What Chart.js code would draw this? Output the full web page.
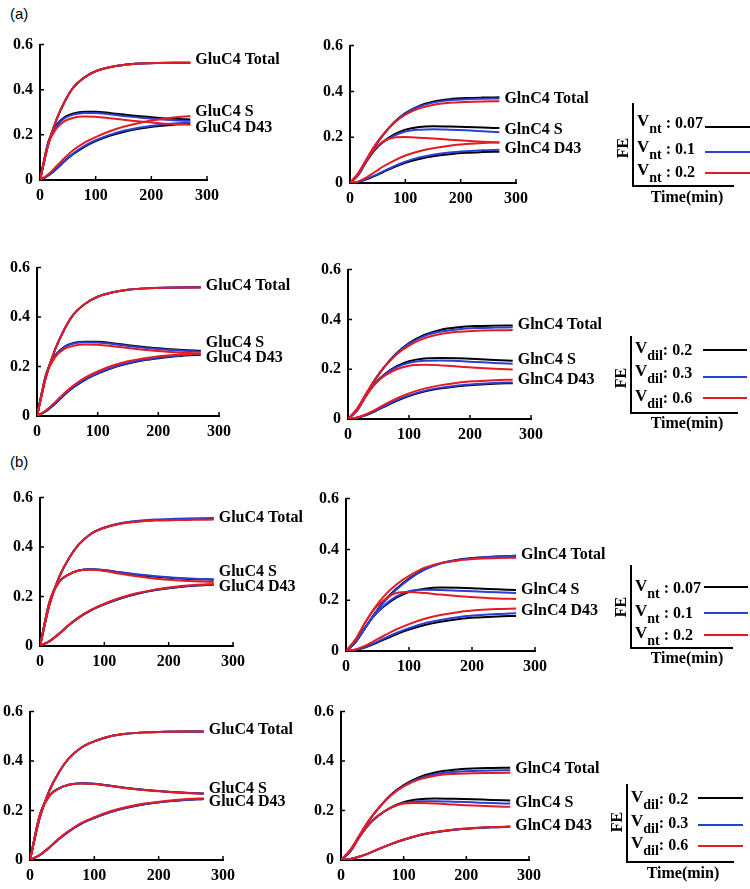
<!DOCTYPE html>
<html>
<head>
<meta charset="utf-8">
<script src="https://cdn.jsdelivr.net/npm/chart.js@4.4.0/dist/chart.umd.min.js"></script>
<style>
  html, body { margin: 0; padding: 0; background: #fff; }
  #page { position: relative; width: 750px; height: 889px; overflow: hidden; }
  #page canvas { position: absolute; }
  .tag { position: absolute; font: 15px "Liberation Sans", Arial, sans-serif; color: #000; transform: translateY(-50%); }
  .lg { position: absolute; font: bold 16px "Liberation Serif", serif; color: #000; white-space: nowrap; line-height: 1; }
  .lg .v { font-size: 17px; position: relative; top: -2px; }
  .lg .sub { font-size: 14px; position: relative; top: 5px; }
  .rule { position: absolute; background: #000; }
</style>
</head>
<body>
<div id="page"></div>
<script>
/* ---------- data ---------- */
const TIME = [0, 15, 30, 45, 60, 80, 100, 125, 150, 180, 210, 240, 270];
const NT_VALUES = ['0.07', '0.1', '0.2'];
const DIL_VALUES = ['0.2', '0.3', '0.6'];
const GLU_NAMES = ['GluC4 Total', 'GluC4 S', 'GluC4 D43'];
const GLN_NAMES = ['GlnC4 Total', 'GlnC4 S', 'GlnC4 D43'];

// (a) row 1 left : GluC4, V_nt varied  (K = black, B = blue, R = red)
const a1TotK = [0, 0.16, 0.27, 0.35, 0.41, 0.455, 0.482, 0.50, 0.51, 0.516, 0.519, 0.52, 0.52];
const a1TotB = [0, 0.16, 0.27, 0.35, 0.41, 0.455, 0.482, 0.50, 0.51, 0.516, 0.519, 0.52, 0.52];
const a1TotR = [0, 0.16, 0.27, 0.35, 0.41, 0.455, 0.482, 0.50, 0.51, 0.516, 0.519, 0.52, 0.52];
const a1SK = [0, 0.17, 0.245, 0.28, 0.295, 0.302, 0.302, 0.297, 0.29, 0.282, 0.276, 0.271, 0.268];
const a1SB = [0, 0.165, 0.24, 0.275, 0.29, 0.297, 0.297, 0.291, 0.284, 0.276, 0.27, 0.265, 0.262];
const a1SR = [0, 0.16, 0.23, 0.262, 0.276, 0.281, 0.28, 0.274, 0.267, 0.259, 0.253, 0.248, 0.245];
const a1DK = [0, 0.02, 0.05, 0.085, 0.115, 0.147, 0.172, 0.196, 0.213, 0.228, 0.238, 0.245, 0.249];
const a1DB = [0, 0.021, 0.052, 0.088, 0.118, 0.151, 0.176, 0.2, 0.218, 0.233, 0.243, 0.25, 0.255];
const a1DR = [0, 0.025, 0.062, 0.1, 0.133, 0.166, 0.19, 0.216, 0.236, 0.254, 0.267, 0.277, 0.284];

// (a) row 1 right : GlnC4, V_nt varied
const a2TotK = [0, 0.04, 0.10, 0.16, 0.21, 0.265, 0.305, 0.337, 0.355, 0.366, 0.371, 0.373, 0.374];
const a2TotB = [0, 0.04, 0.10, 0.16, 0.21, 0.264, 0.303, 0.334, 0.351, 0.361, 0.366, 0.368, 0.369];
const a2TotR = [0, 0.045, 0.105, 0.165, 0.212, 0.263, 0.298, 0.326, 0.341, 0.35, 0.354, 0.356, 0.357];
const a2SK = [0, 0.035, 0.095, 0.145, 0.18, 0.212, 0.233, 0.245, 0.248, 0.247, 0.245, 0.242, 0.24];
const a2SB = [0, 0.035, 0.095, 0.145, 0.178, 0.207, 0.225, 0.233, 0.235, 0.233, 0.23, 0.226, 0.222];
const a2SR = [0, 0.04, 0.10, 0.15, 0.182, 0.199, 0.201, 0.198, 0.194, 0.189, 0.184, 0.18, 0.177];
const a2DK = [0, 0.005, 0.016, 0.031, 0.048, 0.07, 0.088, 0.105, 0.117, 0.126, 0.132, 0.135, 0.137];
const a2DB = [0, 0.005, 0.017, 0.033, 0.051, 0.074, 0.093, 0.111, 0.123, 0.133, 0.139, 0.143, 0.145];
const a2DR = [0, 0.007, 0.025, 0.048, 0.072, 0.098, 0.12, 0.139, 0.152, 0.163, 0.17, 0.175, 0.177];

// (a) row 2 left : GluC4, V_dil varied
const a3TotK = [0, 0.16, 0.27, 0.35, 0.41, 0.455, 0.482, 0.50, 0.51, 0.516, 0.519, 0.52, 0.521];
const a3TotB = [0, 0.16, 0.27, 0.35, 0.41, 0.455, 0.482, 0.50, 0.51, 0.516, 0.519, 0.52, 0.521];
const a3TotR = [0, 0.16, 0.27, 0.35, 0.41, 0.455, 0.482, 0.50, 0.51, 0.516, 0.519, 0.52, 0.52];
const a3SK = [0, 0.17, 0.245, 0.28, 0.295, 0.3, 0.3, 0.294, 0.286, 0.278, 0.272, 0.267, 0.264];
const a3SB = [0, 0.168, 0.243, 0.278, 0.293, 0.298, 0.297, 0.291, 0.283, 0.275, 0.269, 0.264, 0.261];
const a3SR = [0, 0.165, 0.238, 0.271, 0.284, 0.289, 0.288, 0.282, 0.275, 0.267, 0.261, 0.256, 0.253];
const a3DK = [0, 0.02, 0.05, 0.085, 0.115, 0.147, 0.171, 0.195, 0.212, 0.227, 0.237, 0.244, 0.248];
const a3DB = [0, 0.021, 0.052, 0.087, 0.117, 0.149, 0.173, 0.197, 0.214, 0.229, 0.239, 0.246, 0.25];
const a3DR = [0, 0.023, 0.056, 0.092, 0.123, 0.156, 0.18, 0.204, 0.221, 0.235, 0.244, 0.25, 0.253];

// (a) row 2 right : GlnC4, V_dil varied
const a4TotK = [0, 0.04, 0.10, 0.16, 0.21, 0.265, 0.305, 0.338, 0.357, 0.368, 0.373, 0.375, 0.376];
const a4TotB = [0, 0.04, 0.10, 0.16, 0.21, 0.264, 0.302, 0.333, 0.35, 0.36, 0.365, 0.367, 0.368];
const a4TotR = [0, 0.042, 0.103, 0.162, 0.21, 0.26, 0.295, 0.324, 0.34, 0.35, 0.354, 0.356, 0.357];
const a4SK = [0, 0.035, 0.095, 0.145, 0.18, 0.212, 0.232, 0.243, 0.245, 0.244, 0.241, 0.237, 0.234];
const a4SB = [0, 0.035, 0.095, 0.144, 0.178, 0.208, 0.226, 0.234, 0.235, 0.233, 0.229, 0.225, 0.222];
const a4SR = [0, 0.036, 0.095, 0.142, 0.174, 0.2, 0.214, 0.218, 0.216, 0.211, 0.206, 0.202, 0.199];
const a4DK = [0, 0.005, 0.016, 0.032, 0.05, 0.073, 0.092, 0.11, 0.122, 0.132, 0.138, 0.142, 0.144];
const a4DB = [0, 0.005, 0.017, 0.034, 0.052, 0.076, 0.095, 0.113, 0.125, 0.135, 0.141, 0.145, 0.147];
const a4DR = [0, 0.006, 0.019, 0.038, 0.058, 0.083, 0.103, 0.122, 0.135, 0.146, 0.152, 0.156, 0.158];

// (b) row 1 left : GluC4, V_nt varied
const b1TotK = [0, 0.17, 0.28, 0.355, 0.41, 0.455, 0.478, 0.495, 0.503, 0.509, 0.512, 0.514, 0.515];
const b1TotB = [0, 0.17, 0.28, 0.355, 0.41, 0.455, 0.479, 0.496, 0.505, 0.511, 0.514, 0.516, 0.518];
const b1TotR = [0, 0.17, 0.28, 0.355, 0.41, 0.455, 0.478, 0.494, 0.502, 0.507, 0.509, 0.51, 0.511];
const b1SK = [0, 0.18, 0.26, 0.29, 0.305, 0.31, 0.306, 0.297, 0.288, 0.28, 0.274, 0.27, 0.268];
const b1SB = [0, 0.18, 0.26, 0.29, 0.305, 0.31, 0.307, 0.298, 0.29, 0.282, 0.276, 0.272, 0.27];
const b1SR = [0, 0.18, 0.26, 0.29, 0.304, 0.308, 0.303, 0.292, 0.282, 0.272, 0.266, 0.262, 0.259];
const b1DK = [0, 0.02, 0.05, 0.085, 0.114, 0.145, 0.168, 0.192, 0.21, 0.226, 0.237, 0.244, 0.248];
const b1DB = [0, 0.02, 0.05, 0.085, 0.115, 0.146, 0.169, 0.193, 0.211, 0.227, 0.238, 0.245, 0.249];
const b1DR = [0, 0.02, 0.05, 0.086, 0.116, 0.147, 0.171, 0.195, 0.213, 0.229, 0.24, 0.247, 0.251];

// (b) row 1 right : GlnC4, V_nt varied
const b2TotK = [0, 0.035, 0.09, 0.145, 0.195, 0.245, 0.285, 0.322, 0.345, 0.36, 0.368, 0.372, 0.375];
const b2TotB = [0, 0.035, 0.09, 0.143, 0.192, 0.242, 0.282, 0.32, 0.344, 0.359, 0.367, 0.372, 0.375];
const b2TotR = [0, 0.045, 0.11, 0.168, 0.215, 0.262, 0.296, 0.328, 0.346, 0.357, 0.363, 0.366, 0.367];
const b2SK = [0, 0.035, 0.09, 0.14, 0.175, 0.21, 0.232, 0.245, 0.25, 0.249, 0.246, 0.243, 0.24];
const b2SB = [0, 0.035, 0.09, 0.14, 0.178, 0.215, 0.235, 0.241, 0.24, 0.237, 0.234, 0.231, 0.228];
const b2SR = [0, 0.045, 0.11, 0.165, 0.2, 0.228, 0.232, 0.228, 0.222, 0.216, 0.211, 0.207, 0.205];
const b2DK = [0, 0.004, 0.014, 0.028, 0.045, 0.066, 0.084, 0.102, 0.115, 0.126, 0.132, 0.136, 0.138];
const b2DB = [0, 0.005, 0.016, 0.031, 0.049, 0.071, 0.09, 0.109, 0.122, 0.134, 0.141, 0.146, 0.149];
const b2DR = [0, 0.006, 0.02, 0.04, 0.06, 0.085, 0.106, 0.127, 0.142, 0.154, 0.161, 0.165, 0.167];

// (b) row 2 left : GluC4, V_dil varied
const b3TotK = [0, 0.17, 0.28, 0.355, 0.41, 0.455, 0.48, 0.5, 0.51, 0.516, 0.519, 0.52, 0.52];
const b3TotB = [0, 0.17, 0.28, 0.355, 0.41, 0.455, 0.48, 0.5, 0.51, 0.516, 0.519, 0.52, 0.52];
const b3TotR = [0, 0.17, 0.28, 0.355, 0.41, 0.455, 0.48, 0.5, 0.51, 0.516, 0.519, 0.52, 0.52];
const b3SK = [0, 0.18, 0.26, 0.29, 0.304, 0.31, 0.308, 0.3, 0.291, 0.283, 0.277, 0.272, 0.269];
const b3SB = [0, 0.18, 0.26, 0.29, 0.304, 0.31, 0.308, 0.3, 0.291, 0.283, 0.277, 0.272, 0.269];
const b3SR = [0, 0.178, 0.258, 0.289, 0.303, 0.309, 0.307, 0.299, 0.29, 0.282, 0.276, 0.271, 0.268];
const b3DK = [0, 0.02, 0.05, 0.085, 0.115, 0.147, 0.17, 0.194, 0.211, 0.226, 0.236, 0.243, 0.247];
const b3DB = [0, 0.02, 0.05, 0.085, 0.115, 0.147, 0.17, 0.194, 0.211, 0.226, 0.236, 0.243, 0.247];
const b3DR = [0, 0.02, 0.051, 0.087, 0.117, 0.15, 0.173, 0.197, 0.214, 0.229, 0.239, 0.246, 0.25];

// (b) row 2 right : GlnC4, V_dil varied
const b4TotK = [0, 0.04, 0.10, 0.16, 0.21, 0.265, 0.303, 0.335, 0.354, 0.365, 0.37, 0.372, 0.373];
const b4TotB = [0, 0.04, 0.10, 0.16, 0.21, 0.263, 0.3, 0.33, 0.347, 0.356, 0.36, 0.362, 0.363];
const b4TotR = [0, 0.042, 0.103, 0.162, 0.21, 0.262, 0.298, 0.326, 0.341, 0.348, 0.351, 0.352, 0.353];
const b4SK = [0, 0.035, 0.095, 0.145, 0.18, 0.213, 0.234, 0.246, 0.249, 0.248, 0.246, 0.243, 0.241];
const b4SB = [0, 0.035, 0.095, 0.145, 0.18, 0.212, 0.23, 0.238, 0.238, 0.236, 0.233, 0.23, 0.228];
const b4SR = [0, 0.037, 0.097, 0.147, 0.182, 0.212, 0.228, 0.23, 0.228, 0.224, 0.22, 0.217, 0.215];
const b4DK = [0, 0.004, 0.014, 0.028, 0.044, 0.064, 0.082, 0.1, 0.112, 0.122, 0.128, 0.132, 0.134];
const b4DB = [0, 0.004, 0.014, 0.028, 0.044, 0.064, 0.082, 0.1, 0.112, 0.122, 0.128, 0.132, 0.134];
const b4DR = [0, 0.004, 0.014, 0.028, 0.045, 0.065, 0.083, 0.101, 0.113, 0.123, 0.129, 0.133, 0.135];

/* ---------- styling / layout ---------- */
const COLORS = ['#000000', '#2a3fd4', '#e51b24'];   // black, blue, red
const TICK_FONT = { family: 'Liberation Serif', size: 16, weight: 'bold' };
const AX_W = 46, AX_H = 30, PAD_T = 12, PAD_R = 115;

// box = [left, top(0.6), right(300), bottom(0)] of the plot area in page pixels
const PANELS = [
  { box: [40, 40, 207, 180],  names: GLU_NAMES, labelY: [0.534, 0.30, 0.232],
    series: [[a1TotK, a1TotB, a1TotR], [a1SK, a1SB, a1SR], [a1DK, a1DB, a1DR]] },
  { box: [350, 41, 516, 183], names: GLN_NAMES, labelY: [0.367, 0.232, 0.148],
    series: [[a2TotK, a2TotB, a2TotR], [a2SK, a2SB, a2SR], [a2DK, a2DB, a2DR]] },
  { box: [37, 263, 219, 416], names: GLU_NAMES, labelY: [0.525, 0.294, 0.235],
    series: [[a3TotK, a3TotB, a3TotR], [a3SK, a3SB, a3SR], [a3DK, a3DB, a3DR]] },
  { box: [348, 265, 531, 419], names: GLN_NAMES, labelY: [0.377, 0.237, 0.156],
    series: [[a4TotK, a4TotB, a4TotR], [a4SK, a4SB, a4SR], [a4DK, a4DB, a4DR]] },
  { box: [40, 493, 233, 646], names: GLU_NAMES, labelY: [0.52, 0.30, 0.24],
    series: [[b1TotK, b1TotB, b1TotR], [b1SK, b1SB, b1SR], [b1DK, b1DB, b1DR]] },
  { box: [346, 494, 535, 651], names: GLN_NAMES, labelY: [0.378, 0.24, 0.16],
    series: [[b2TotK, b2TotB, b2TotR], [b2SK, b2SB, b2SR], [b2DK, b2DB, b2DR]] },
  { box: [30, 707, 223, 860], names: GLU_NAMES, labelY: [0.525, 0.286, 0.235],
    series: [[b3TotK, b3TotB, b3TotR], [b3SK, b3SB, b3SR], [b3DK, b3DB, b3DR]] },
  { box: [341, 707, 529, 860], names: GLN_NAMES, labelY: [0.369, 0.231, 0.137],
    series: [[b4TotK, b4TotB, b4TotR], [b4SK, b4SB, b4SR], [b4DK, b4DB, b4DR]] }
];

const LEGENDS = [
  { axisX: 633, top: 103, bottom: 186, right: 734, fe: [623, 148], time: [687, 197],
    sub: 'nt', sep: '\u00a0: ', values: NT_VALUES, textY: [122, 148, 171], lineY: [127, 152, 173], lineX: [705, 750] },
  { axisX: 631, top: 336, bottom: 413, right: 738, fe: [621, 378], time: [687, 423],
    sub: 'dil', sep: ': ', values: DIL_VALUES, textY: [349, 372, 397], lineY: [350, 377, 398], lineX: [703, 747] },
  { axisX: 631, top: 565, bottom: 648, right: 733, fe: [621, 607], time: [687, 658],
    sub: 'nt', sep: '\u00a0: ', values: NT_VALUES, textY: [587, 612, 634], lineY: [587, 613, 635], lineX: [704, 748] },
  { axisX: 627, top: 784, bottom: 862, right: 734, fe: [617, 822], time: [683, 873],
    sub: 'dil', sep: ': ', values: DIL_VALUES, textY: [798, 822, 844], lineY: [798, 825, 846], lineX: [698, 743] }
];

const page = document.getElementById('page');

// inward tick marks + curve names at the right end of each group
const panelDecor = {
  id: 'panelDecor',
  afterDraw(chart, args, opts) {
    const { ctx } = chart;
    const x = chart.scales.x, y = chart.scales.y;
    ctx.save();
    ctx.strokeStyle = '#000';
    ctx.lineWidth = 1.5;
    ctx.beginPath();
    x.ticks.forEach(t => {
      if (t.value <= 0) return;
      const px = x.getPixelForValue(t.value);
      ctx.moveTo(px, y.bottom); ctx.lineTo(px, y.bottom - 4);
    });
    y.ticks.forEach(t => {
      if (t.value <= 0) return;
      const py = y.getPixelForValue(t.value);
      ctx.moveTo(x.left, py); ctx.lineTo(x.left + 4, py);
    });
    ctx.stroke();

    ctx.fillStyle = '#000';
    ctx.font = 'bold 16px "Liberation Serif"';
    ctx.textBaseline = 'middle';
    const lx = x.getPixelForValue(TIME[TIME.length - 1]) + 5;
    opts.names.forEach((n, i) => ctx.fillText(n, lx, y.getPixelForValue(opts.labelY[i])));
    ctx.restore();
  }
};

function drawPanel(p) {
  const [l, t, r, b] = p.box;
  const w = (r - l) + AX_W + PAD_R;
  const h = (b - t) + PAD_T + AX_H;
  const cv = document.createElement('canvas');
  cv.width = w; cv.height = h;
  cv.style.left = (l - AX_W) + 'px';
  cv.style.top = (t - PAD_T) + 'px';
  cv.style.width = w + 'px'; cv.style.height = h + 'px';
  page.appendChild(cv);

  const datasets = [];
  COLORS.forEach((c, ci) => {
    p.series.forEach(group => {
      datasets.push({
        data: TIME.map((tt, i) => ({ x: tt, y: group[ci][i] })),
        borderColor: c,
        borderWidth: 2,
        pointRadius: 0,
        cubicInterpolationMode: 'monotone',
        order: 2 - ci       // black drawn first, red on top
      });
    });
  });

  new Chart(cv, {
    type: 'line',
    data: { datasets },
    options: {
      responsive: false,
      animation: false,
      devicePixelRatio: 1,
      layout: { padding: { left: 0, top: PAD_T, right: PAD_R, bottom: 0 } },
      plugins: {
        legend: { display: false },
        tooltip: { enabled: false },
        panelDecor: { names: p.names, labelY: p.labelY }
      },
      scales: {
        x: {
          type: 'linear', min: 0, max: 300,
          ticks: { stepSize: 100, padding: 6, color: '#000', font: TICK_FONT, maxRotation: 0 },
          grid: { display: false, drawTicks: false },
          border: { color: '#000', width: 2 },
          afterFit(s) { s.height = AX_H; }
        },
        y: {
          min: 0, max: 0.6,
          ticks: { stepSize: 0.2, padding: 7, color: '#000', font: TICK_FONT,
                   callback: v => (v === 0 ? '0' : v.toFixed(1)) },
          grid: { display: false, drawTicks: false },
          border: { color: '#000', width: 2 },
          afterFit(s) { s.width = AX_W; }
        }
      }
    },
    plugins: [panelDecor]
  });
}

function addDiv(cls, css, html) {
  const d = document.createElement('div');
  d.className = cls;
  Object.assign(d.style, css);
  if (html !== undefined) d.innerHTML = html;
  page.appendChild(d);
  return d;
}

function drawLegend(g) {
  addDiv('rule', { left: (g.axisX - 1) + 'px', top: g.top + 'px', width: '2px', height: (g.bottom - g.top) + 'px' });
  addDiv('rule', { left: (g.axisX - 1) + 'px', top: (g.bottom - 1) + 'px', width: (g.right - g.axisX + 1) + 'px', height: '2px' });
  addDiv('lg', { left: g.fe[0] + 'px', top: g.fe[1] + 'px', transform: 'translate(-50%,-50%) rotate(-90deg)' }, 'FE');
  addDiv('lg', { left: g.time[0] + 'px', top: g.time[1] + 'px', transform: 'translate(-50%,-50%)' }, 'Time(min)');
  g.values.forEach((v, i) => {
    addDiv('lg', { left: (g.axisX + 4) + 'px', top: g.textY[i] + 'px', transform: 'translateY(-50%)' },
      `<span class="v">V</span><span class="sub">${g.sub}</span>${g.sep}${v}`);
    addDiv('rule', { left: g.lineX[0] + 'px', top: (g.lineY[i] - 1) + 'px',
      width: (g.lineX[1] - g.lineX[0]) + 'px', height: '2px', background: COLORS[i] });
  });
}

addDiv('tag', { left: '10px', top: '13px' }, '(a)');
addDiv('tag', { left: '10px', top: '461px' }, '(b)');
PANELS.forEach(drawPanel);
LEGENDS.forEach(drawLegend);
</script>
</body>
</html>
